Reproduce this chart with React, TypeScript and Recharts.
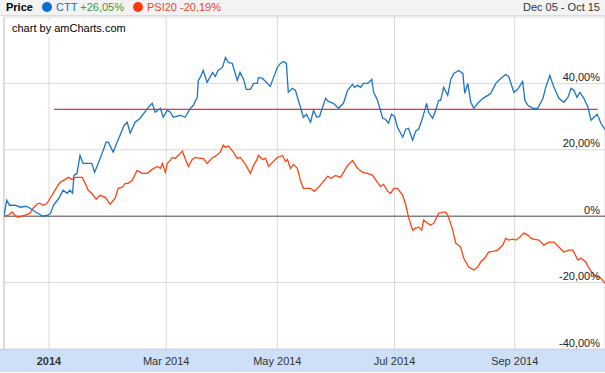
import { LineChart, Line, XAxis, YAxis, CartesianGrid, ReferenceLine } from "recharts";

// x = trading day since Dec 05 2013, y = change in %
const cttPoints: [number, number][] = [
  [0, 0], [1, 4.8], [2, 3.3], [4, 3.3], [6, 2.7], [8, 3.0], [9.5, 2.4], [11, 1.5], [13, 0.6], [14, 0],
  [16, 0.3], [17, 0.9], [18, 3.3], [20, 5.4], [21.5, 7.8], [23, 6.9], [24, 7.8], [25, 6.9], [25.5, 12.3],
  [26.6, 12.9], [27.7, 18.3], [28.8, 15.9], [30.3, 15.9], [32, 15.9], [33, 13.2], [34.3, 15.9], [35.8, 19.0],
  [37.2, 22.3], [38, 22.3], [39.8, 19.3], [41.2, 22.3], [42.3, 24.4], [43.8, 27.4], [44.9, 28.3], [46, 25.0],
  [47.8, 28.3], [49.6, 29.5], [52.6, 32.8], [54, 34.0], [55.1, 31.3], [57, 32.5], [58, 29.8], [59.5, 31.9],
  [60.6, 31.3], [61.7, 29.8], [64.2, 30.4], [66, 29.8], [67.9, 32.5], [69, 33.4], [70.4, 35.8], [70.8, 40.9],
  [71.5, 41.8], [72.6, 43.9], [74, 40.3], [76, 43.3], [77, 42.1], [78, 43.9], [79.6, 44.8], [80.7, 47.8],
  [81.8, 46.3], [83.2, 46.0], [85, 40.9], [86, 43.3], [87.2, 41.5], [88.3, 38.2], [89.8, 38.2], [91, 40.0],
  [92.3, 40.0], [92.7, 41.8], [94.2, 41.5], [96, 40.0], [97, 39.1], [99.6, 44.8], [100.7, 46.0], [101.8, 46.6],
  [102.9, 46.0], [103.6, 37.3], [105.1, 38.5], [106.2, 37.9], [108, 32.8], [109.1, 29.8], [110.2, 30.7],
  [111.7, 28.3], [112.8, 31.9], [113.9, 29.8], [115, 30.1], [117.2, 35.5], [118.2, 34.6], [120, 34.0],
  [121.9, 32.5], [123.7, 34.0], [125.2, 37.9], [127, 39.7], [127.7, 38.8], [128.8, 39.4], [130, 38.8],
  [131, 40.0], [132.5, 40.0], [134, 41.2], [134.7, 37.3], [136.1, 34.9], [138, 29.5], [139, 29.2],
  [140.1, 28.0], [141.2, 30.7], [142.3, 30.1], [143.4, 26.8], [145.3, 23.8], [146.4, 26.2], [147.4, 26.5],
  [148.9, 22.9], [150, 25.6], [151.1, 26.2], [152.6, 29.8], [154, 34.0], [154.7, 31.3], [156.2, 29.5],
  [157.3, 31.9], [158.4, 34.9], [159.1, 34.9], [160.2, 38.8], [161.7, 36.4], [162.8, 41.2], [163.9, 43.0],
  [165.7, 43.9], [167.2, 43.0], [167.9, 37.0], [169, 40.0], [170.1, 34.3], [171.2, 32.5], [172.6, 34.0],
  [174.5, 35.5], [176.3, 36.4], [177.4, 37.0], [179.2, 40.0], [181, 41.5], [182.8, 42.7], [183.9, 42.1],
  [185.8, 37.3], [187.2, 38.2], [189, 40.6], [189.8, 34.9], [190.9, 33.4], [192.7, 32.5], [194.5, 32.5],
  [196.4, 35.5], [197.4, 38.8], [198.9, 42.4], [200.4, 38.8], [202.2, 35.5], [204, 34.3], [205.5, 35.8],
  [206.6, 38.5], [207.7, 37.9], [208.8, 35.8], [209.9, 37.3], [211.3, 35.5], [212.8, 32.8], [213.9, 28.9],
  [215, 29.8], [216.1, 30.7], [216.8, 29.5], [217.5, 28.0], [219, 26.05],
];

const psiPoints: [number, number][] = [
  [0, 0], [1.5, 0.3], [3, 1.2], [4, 0.3], [5, -0.3], [7.7, 0.3], [9.5, 0.9], [10.6, 2.4], [12, 3.6], [13, 3.9],
  [14.2, 3.3], [15.7, 3.9], [16.8, 5.4], [17.9, 6.9], [19, 8.4], [20.4, 10.2], [22.3, 11.1], [23.4, 11.7],
  [24.8, 11.1], [26, 11.7], [28.5, 11.7], [29.6, 9.9], [30.7, 7.8], [32, 6.9], [33.6, 5.1], [35, 6.3],
  [36.9, 5.7], [38.7, 3.6], [40.5, 5.4], [41.6, 8.4], [43, 8.7], [44.2, 9.9], [45.3, 9.9], [46.7, 10.8],
  [48.5, 13.8], [50.4, 12.9], [52.2, 12.9], [54, 14.1], [55.8, 15.0], [57, 14.4], [57.7, 15.9], [58.8, 13.2],
  [59.5, 15.9], [60.6, 16.8], [61.3, 17.7], [62.4, 17.4], [63.5, 18.3], [65, 19.6], [66, 17.4], [67.2, 15.0],
  [68.6, 17.1], [69.7, 17.7], [71.5, 17.4], [72.6, 17.4], [74, 15.9], [76, 17.7], [77, 18.0], [78.8, 19.3],
  [79.9, 21.4], [80.7, 20.8], [81.8, 21.1], [83.6, 19.3], [85, 17.4], [86.1, 17.7], [88, 15.6], [89.8, 12.9],
  [90.9, 15.3], [92, 16.8], [92.7, 18.3], [94.2, 17.1], [95.3, 17.4], [96.4, 15.0], [97.8, 16.2], [99.6, 17.7],
  [101.5, 18.3], [102.6, 16.5], [103.3, 17.1], [104.4, 14.4], [105.5, 15.6], [106.9, 14.4], [108, 10.8],
  [109.1, 8.4], [110.6, 8.4], [111.7, 8.4], [113.1, 7.5], [114.6, 8.7], [116.4, 10.5], [117.9, 12.0],
  [119.3, 11.4], [120.8, 12.3], [122.6, 11.7], [123.7, 13.2], [125.2, 15.3], [127, 16.8], [127.7, 15.9],
  [128.8, 14.4], [130.7, 13.2], [132.5, 12.9], [134.3, 12.3], [136.1, 10.2], [137.2, 9.0], [138.3, 9.6],
  [139.8, 7.5], [140.9, 6.9], [142, 8.4], [143.4, 8.4], [145.3, 6.3], [146.4, 3.3], [147.4, -0.3],
  [148.9, -4.2], [150, -3.6], [151.1, -3.3], [152.2, -4.2], [152.9, -1.2], [154.4, -2.1], [155.5, -2.7],
  [156.6, -2.1], [158.4, 0.9], [159.9, 1.2], [161, 1.2], [162, -0.3], [163.5, -4.2], [164.6, -8.1],
  [166.4, -9.3], [167.5, -12.6], [169.3, -15.3], [171.2, -16.2], [172.6, -15.3], [173.7, -13.8],
  [175.2, -12.6], [176.6, -10.8], [178.5, -10.5], [179.9, -10.2], [181.8, -8.7], [182.8, -6.6],
  [183.9, -7.2], [185.4, -6.9], [186.5, -7.2], [187.6, -6.6], [189.4, -5.1], [190.9, -5.7], [192, -6.6],
  [193, -6.9], [194.9, -7.2], [196.7, -8.7], [198.5, -7.8], [200.4, -7.8], [202.2, -9.3], [204, -10.8],
  [205.8, -10.2], [207.3, -10.2], [209.1, -13.2], [210.2, -12.6], [212, -13.8], [213.1, -15.6],
  [214.9, -17.7], [216.4, -18.3], [217.5, -18.6], [219, -20.19],
];

const monthTicks = [16.4, 59.1, 99.6, 142.3, 186.1];
const monthLabels = ["2014", "Mar 2014", "May 2014", "Jul 2014", "Sep 2014"];
const pctTicks = [-40, -20, 0, 20, 40];

// horizontal guide drawn on the chart
const guideValue = 32.2;
const guideFrom = 18.2;
const guideTo = 216.4;

const BLUE = "#1b74c7";
const ORANGE = "#ff4412";
const FONT = '"Liberation Sans", Arial, sans-serif';

const cttData = cttPoints.map(([day, pct]) => ({ day, pct }));
const psiData = psiPoints.map(([day, pct]) => ({ day, pct }));

const fmtPct = (v: number) => (v === 0 ? "0%" : v.toFixed(2).replace(".", ",") + "%");

function MonthTick({ x, y, payload }: any) {
  const idx = monthTicks.indexOf(payload.value);
  const label = monthLabels[idx] ?? "";
  return (
    <text x={x} y={y} dy="0.71em" textAnchor="middle" fontSize={11} fontFamily={FONT} fill="#333"
      fontWeight={idx === 0 ? "bold" : "normal"}>
      {label}
    </text>
  );
}

function PctTick({ y, payload }: any) {
  // labels sit inside the plot, right aligned, just above their grid line
  return (
    <text x={600} y={y - 2.5} textAnchor="end" fontSize={11} fontFamily={FONT} fill="#222">
      {fmtPct(payload.value)}
    </text>
  );
}

const dot = (color: string) => (
  <span style={{ display: "inline-block", width: 10, height: 10, borderRadius: 5, background: color, marginRight: 4, verticalAlign: -1 }} />
);

export default function App() {
  return (
    <div style={{ position: "absolute", left: 0, top: 0, width: 605, height: 373, background: "#fff", fontFamily: FONT, fontSize: 11, overflow: "hidden" }}>
      {/* header */}
      <div style={{ position: "absolute", left: 0, top: 0, width: 605, height: 16, background: "#f3f3f3", borderBottom: "1px solid #dcdcdc", boxSizing: "border-box", lineHeight: "15px", whiteSpace: "nowrap" }}>
        <span style={{ position: "absolute", left: 6, fontWeight: "bold", color: "#000" }}>Price</span>
        <span style={{ position: "absolute", left: 42 }}>
          {dot("#0c6ccb")}
          <span style={{ color: "#1b6fc2" }}>CTT</span> <span style={{ color: "#3d9a3d" }}>+26,05%</span>
        </span>
        <span style={{ position: "absolute", left: 133 }}>
          {dot("#ff3a0a")}
          <span style={{ color: "#e8472a" }}>PSI20 -20,19%</span>
        </span>
        <span style={{ position: "absolute", right: 5, color: "#333" }}>Dec 05 - Oct 15</span>
      </div>

      {/* scrollbar band */}
      <div style={{ position: "absolute", left: 0, top: 349, width: 605, height: 23, background: "#cde0f8", borderTop: "1px solid #c4ccd6", boxSizing: "border-box" }} />

      <div style={{ position: "absolute", left: 0, top: 16 }}>
        <LineChart width={605} height={357} margin={{ top: 1, right: 0, left: 4, bottom: 0 }}>
          <CartesianGrid stroke="#d9d9d9" strokeWidth={1} horizontal vertical />
          <XAxis
            type="number"
            dataKey="day"
            domain={[0, 219]}
            ticks={monthTicks}
            axisLine={false}
            tickLine={false}
            height={24}
            tick={<MonthTick />}
            allowDataOverflow
          />
          <YAxis
            type="number"
            orientation="right"
            mirror
            width={1}
            domain={[-40, 60]}
            ticks={pctTicks}
            axisLine={false}
            tickLine={false}
            tick={<PctTick />}
            interval={0}
            allowDataOverflow
          />
          <ReferenceLine x={0} stroke="#cfcfcf" />
          <ReferenceLine y={0} stroke="#555" strokeWidth={1} />
          <ReferenceLine
            segment={[{ x: guideFrom, y: guideValue }, { x: guideTo, y: guideValue }]}
            stroke="#e00000"
            strokeWidth={1}
          />
          <Line data={psiData} dataKey="pct" type="linear" stroke={ORANGE} strokeWidth={1.3} dot={false} isAnimationActive={false} />
          <Line data={cttData} dataKey="pct" type="linear" stroke={BLUE} strokeWidth={1.3} dot={false} isAnimationActive={false} />
        </LineChart>
      </div>

      {/* credit label */}
      <div style={{ position: "absolute", left: 8, top: 20, padding: "1px 4px", background: "#fff", color: "#000", lineHeight: "15px" }}>
        chart by amCharts.com
      </div>
    </div>
  );
}
